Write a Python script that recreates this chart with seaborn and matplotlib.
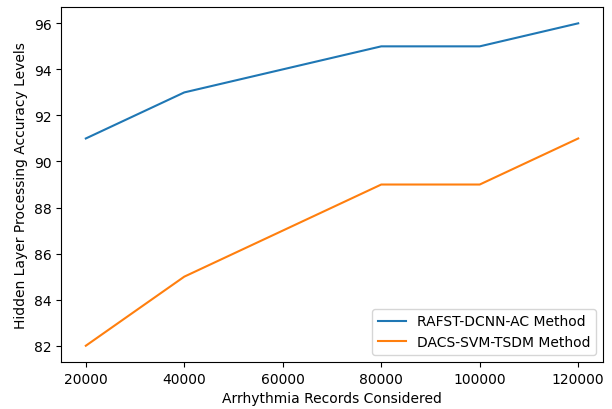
import pandas as pd
import seaborn as sns
import matplotlib.pyplot as plt

# values
records = [20000, 40000, 80000, 100000, 120000]
rafst = [91, 93, 95, 95, 96]
dacs = [82, 85, 89, 89, 91]

df = pd.DataFrame({
    'records': records * 2,
    'accuracy': rafst + dacs,
    'method': ['RAFST-DCNN-AC Method'] * len(records) + ['DACS-SVM-TSDM Method'] * len(records),
})

fig, ax = plt.subplots(figsize=(6.12, 4.10), dpi=100)
sns.lineplot(data=df, x='records', y='accuracy', hue='method',
             palette=['#1f77b4', '#ff7f0e'], ax=ax)

ax.set_xlabel('Arrhythmia Records Considered')
ax.set_ylabel('Hidden Layer Processing Accuracy Levels')
ax.set_xticks([20000, 40000, 60000, 80000, 100000, 120000])
ax.set_yticks([82, 84, 86, 88, 90, 92, 94, 96])
ax.legend(loc='lower right')

plt.subplots_adjust(left=0.1, right=0.985, top=0.98, bottom=0.115)
plt.savefig('out.png', dpi=100)
